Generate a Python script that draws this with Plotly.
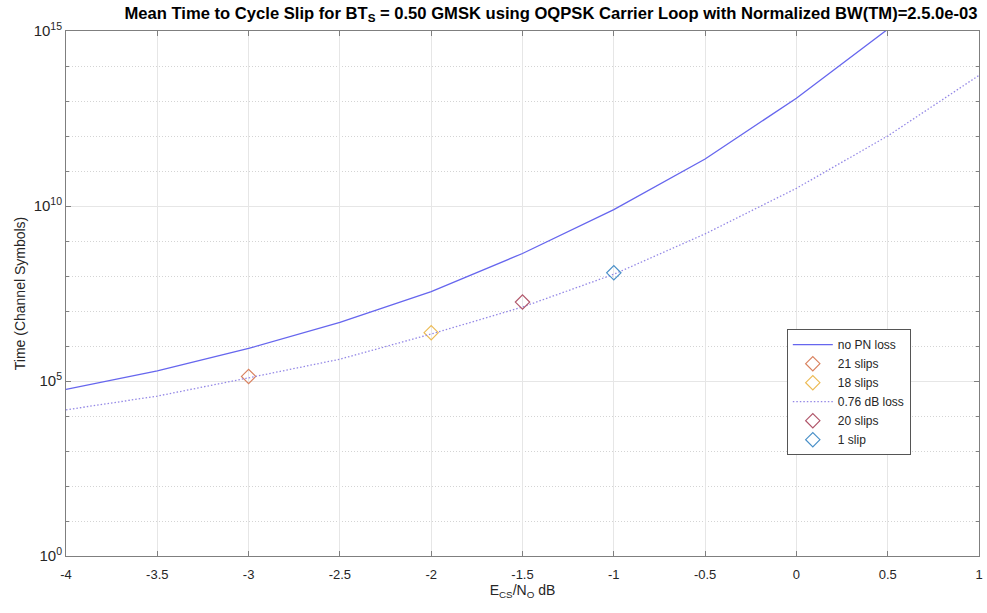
import plotly.graph_objects as go

# Eb/No grid (dB)
ecs_no_db = [-4, -3.5, -3, -2.5, -2, -1.5, -1, -0.5, 0, 0.5]
ecs_no_db_loss = [-4, -3.5, -3, -2.5, -2, -1.5, -1, -0.5, 0, 0.5, 1]

# Mean time to cycle slip (channel symbols)
t_no_pn_loss = [5.75e4, 1.95e5, 8.5e5, 4.7e6, 3.6e7, 4.4e8, 7.9e9, 2.2e11, 1.2e13, 1.12e15]
t_076_db_loss = [1.5e4, 3.7e4, 1.23e5, 4.2e5, 2.2e6, 1.3e7, 1.12e8, 1.6e9, 3.2e10, 1.0e12, 5.4e13]

# Simulated slip points
sim_labels = ["21 slips", "18 slips", "20 slips", "1 slip"]
sim_x = [-3, -2, -1.5, -1]
sim_t = [1.35e5, 2.4e6, 1.8e7, 1.23e8]
sim_colors = ["#d9825f", "#ecbb55", "#b0566a", "#4a90c8"]

y_tick_vals = [1e0, 1e5, 1e10, 1e15]
y_tick_text = ["10<sup>0</sup>", "10<sup>5</sup>", "10<sup>10</sup>", "10<sup>15</sup>"]
y_minor_vals = [10.0 ** k for k in range(1, 15) if k % 5 != 0]
x_tick_vals = [-4, -3.5, -3, -2.5, -2, -1.5, -1, -0.5, 0, 0.5, 1]
x_tick_text = ["-4", "-3.5", "-3", "-2.5", "-2", "-1.5", "-1", "-0.5", "0", "0.5", "1"]

font_family = "Liberation Sans, Arial, sans-serif"

fig = go.Figure()

def add_marker(i):
    fig.add_trace(go.Scatter(
        x=[sim_x[i]], y=[sim_t[i]], mode="markers", name=sim_labels[i],
        marker=dict(symbol="diamond-open", size=11, color=sim_colors[i],
                    line=dict(width=1.2, color=sim_colors[i])),
    ))

fig.add_trace(go.Scatter(
    x=ecs_no_db, y=t_no_pn_loss, mode="lines", name="no PN loss",
    line=dict(color="#6666ee", width=1.3),
))
add_marker(0)
add_marker(1)
fig.add_trace(go.Scatter(
    x=ecs_no_db_loss, y=t_076_db_loss, mode="lines", name="0.76 dB loss",
    line=dict(color="#9488e6", width=1.3, dash="1.5px,2px"),
))
add_marker(2)
add_marker(3)

axis_col = "#7f7f7f"
grid_col = "#e6e6e6"

fig.update_layout(
    width=987, height=613,
    margin=dict(l=66, r=4, t=31, b=57),
    paper_bgcolor="white", plot_bgcolor="white",
    font=dict(family=font_family, size=12, color="#262626"),
    title=dict(
        text="<b>Mean Time to Cycle Slip for BT<sub>S</sub> = 0.50 GMSK using OQPSK Carrier Loop with Normalized BW(TM)=2.5.0e-03</b>",
        x=551 / 987, xanchor="center", y=0.988, yanchor="top",
        font=dict(size=16.6, color="#000000"),
    ),
    showlegend=True,
    legend=dict(
        x=0.7895, y=0.432, xanchor="left", yanchor="top",
        bgcolor="white", bordercolor="#555555", borderwidth=1,
        font=dict(size=12, color="#262626"), itemwidth=40,
        tracegroupgap=0, traceorder="normal",
    ),
    xaxis=dict(
        range=[-4, 1], tickvals=x_tick_vals, ticktext=x_tick_text,
        showgrid=True, gridcolor=grid_col, gridwidth=1,
        showline=True, linecolor=axis_col, linewidth=1, mirror="ticks",
        ticks="inside", ticklen=5, tickcolor=axis_col,
        zeroline=False, ticklabelstandoff=6,
        title=dict(text="E<sub>CS</sub>/N<sub>O</sub> dB", font=dict(size=14), standoff=4),
        tickfont=dict(size=13),
    ),
    yaxis=dict(
        type="log", range=[0, 15], tickvals=y_tick_vals, ticktext=y_tick_text,
        showgrid=True, gridcolor=grid_col, gridwidth=1,
        showline=True, linecolor=axis_col, linewidth=1, mirror="ticks",
        ticks="inside", ticklen=5, tickcolor=axis_col,
        zeroline=False,
        minor=dict(tickvals=y_minor_vals, showgrid=True, gridcolor="#d4d4d4",
                   griddash="1px,2px", gridwidth=1, ticks="inside", ticklen=3,
                   tickcolor=axis_col),
        title=dict(text="Time (Channel Symbols)", font=dict(size=14), standoff=4),
        tickfont=dict(size=15),
    ),
)

fig.write_html("out.html")
